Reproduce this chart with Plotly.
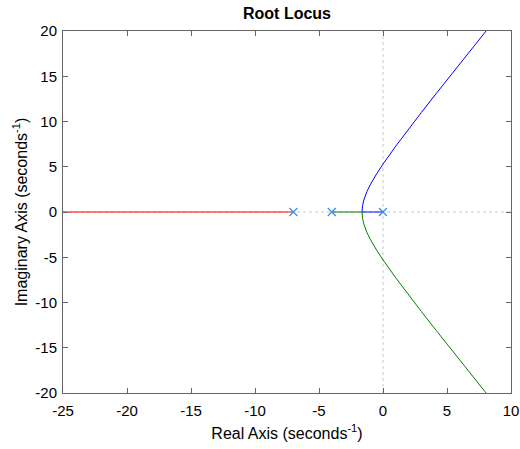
import plotly.graph_objects as go

# Open-loop poles
pole_re = [0, -4, -7]
pole_im = [0, 0, 0]

# Upper complex branch: real part, imaginary part
branch_re = [-1.64, -1.6, -1.5, -1.25, -1.0, -0.5, 0.0, 1.0, 2.0, 3.0, 4.0, 5.0, 6.0, 7.0, 8.0, 8.1]
branch_im = [0.0, 0.69, 1.32, 2.28, 3.0, 4.21, 5.29, 7.28, 9.17, 11.0, 12.81, 14.59, 16.37, 18.14, 19.9, 20.08]

red_re = [-7, -26]

x_ticks = [-25, -20, -15, -10, -5, 0, 5, 10]
y_ticks = [-20, -15, -10, -5, 0, 5, 10, 15, 20]

FONT = "Liberation Sans, Arial"

fig = go.Figure()

# dotted axes lines
fig.add_trace(go.Scatter(x=[-25, 10], y=[0, 0], mode="lines",
                         line=dict(color="#c8c8c8", width=1, dash="dot"), hoverinfo="skip"))
fig.add_trace(go.Scatter(x=[0, 0], y=[-20, 20], mode="lines",
                         line=dict(color="#c8c8c8", width=1, dash="dot"), hoverinfo="skip"))

# red branch
fig.add_trace(go.Scatter(x=red_re, y=[0, 0], mode="lines", line=dict(color="#ff0000", width=1)))
# blue branch: pole 0 -> breakaway -> upper
fig.add_trace(go.Scatter(x=[pole_re[0]] + branch_re, y=[0] + branch_im, mode="lines",
                         line=dict(color="#0000ff", width=1)))
# green branch: pole -4 -> breakaway -> lower
fig.add_trace(go.Scatter(x=[pole_re[1]] + branch_re, y=[0] + [-v for v in branch_im], mode="lines",
                         line=dict(color="#008000", width=1)))

# poles
fig.add_trace(go.Scatter(x=pole_re, y=pole_im, mode="markers",
                         marker=dict(symbol="x-thin", size=8, line=dict(color="#3a8ee6", width=1.2),
                                     color="#3a8ee6")))

axis_common = dict(showgrid=False, zeroline=False, showline=True, linecolor="#666666", linewidth=1,
                   mirror="ticks", ticks="inside", ticklen=5, tickcolor="#666666", automargin=False,
                   tickfont=dict(family=FONT, size=15, color="#000000"))

fig.update_xaxes(range=[-25, 10], tickvals=x_ticks, ticktext=[str(v) for v in x_ticks],
                 ticklabelstandoff=4,
                 title=dict(text="Real Axis (seconds<sup>-1</sup>)", standoff=9,
                            font=dict(family=FONT, size=16, color="#000000")),
                 **axis_common)
fig.update_yaxes(range=[-20, 20], tickvals=y_ticks, ticktext=[str(v) for v in y_ticks],
                 ticklabelstandoff=2,
                 title=dict(text="Imaginary Axis (seconds<sup>-1</sup>)", standoff=3,
                            font=dict(family=FONT, size=16, color="#000000")),
                 **axis_common)

fig.update_layout(
    width=520, height=449,
    margin=dict(l=63, r=9, t=31, b=56, autoexpand=False),
    paper_bgcolor="white", plot_bgcolor="white",
    showlegend=False,
    title=dict(text="<b>Root Locus</b>", x=0.5, xanchor="center", xref="paper",
               y=0.97, yanchor="middle", automargin=False,
               font=dict(family=FONT, size=16, color="#000000")),
)

fig.write_html("out.html", config={"displayModeBar": False},
               post_script="document.body.style.margin='0';")
